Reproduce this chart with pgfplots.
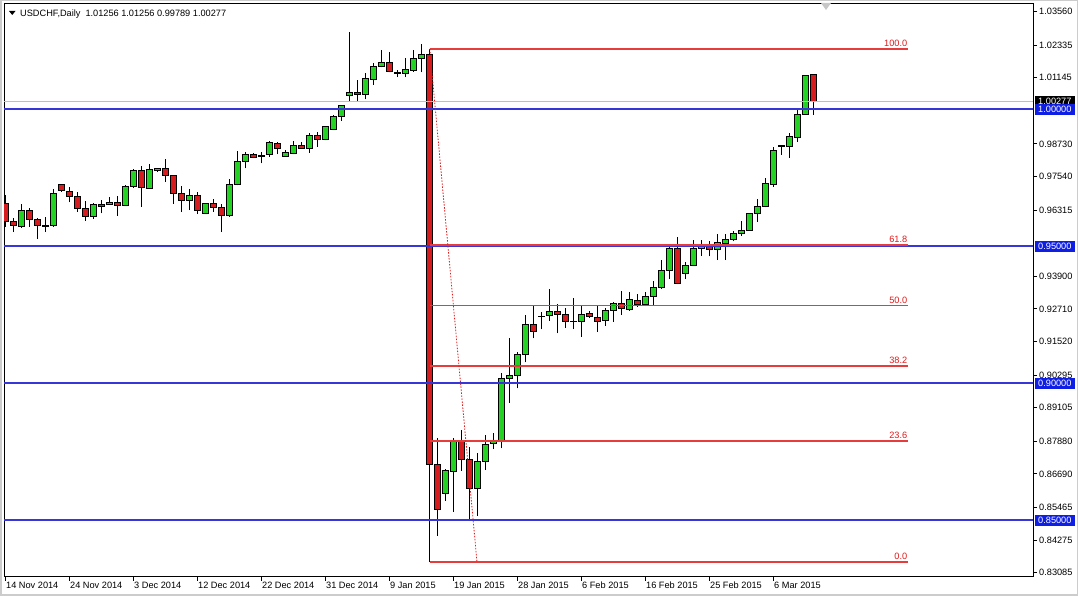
\documentclass[border=0pt]{standalone}
\usepackage{pgfplots}
\usepackage{pgfplotstable}
\pgfplotsset{compat=1.18}
\usepackage{fontspec}
\setmainfont{Liberation Sans}

\definecolor{bull}{RGB}{35,210,35}
\definecolor{bear}{RGB}{215,28,32}
\definecolor{lvlblue}{RGB}{55,55,215}
\definecolor{boxblue}{RGB}{15,30,228}
\definecolor{fibred}{RGB}{230,60,60}
\definecolor{fibtext}{RGB}{225,25,25}
\definecolor{bidgray}{RGB}{192,192,186}

% USDCHF daily, bar index (Sunday bars counted), open high low close
\pgfplotstableread{
i   o       h       l       c
0   0.9656  0.9686  0.9571  0.9590
1   0.9590  0.9602  0.9551  0.9574
2   0.9571  0.9654  0.9568  0.9630
3   0.9630  0.9638  0.9571  0.9596
4   0.9596  0.9602  0.9526  0.9574
5   0.9573  0.9605  0.9551  0.9576
6   0.9575  0.9708  0.9571  0.9692
7   0.9725  0.9725  0.9699  0.9702
8   0.9699  0.9717  0.9660  0.9680
9   0.9680  0.9696  0.9626  0.9638
10  0.9638  0.9665  0.9593  0.9610
11  0.9610  0.9659  0.9599  0.9653
12  0.9653  0.9668  0.9620  0.9644
13  0.9653  0.9680  0.9653  0.9661
14  0.9661  0.9683  0.9611  0.9649
15  0.9650  0.9725  0.9650  0.9717
16  0.9717  0.9780  0.9714  0.9777
17  0.9777  0.9793  0.9644  0.9714
18  0.9711  0.9799  0.9708  0.9780
19  0.9775  0.9786  0.9771  0.9783
20  0.9783  0.9817  0.9735  0.9759
21  0.9759  0.9761  0.9654  0.9692
22  0.9692  0.9719  0.9624  0.9666
23  0.9668  0.9707  0.9632  0.9686
24  0.9686  0.9699  0.9617  0.9630
25  0.9620  0.9654  0.9620  0.9654
26  0.9654  0.9671  0.9626  0.9642
27  0.9642  0.9654  0.9551  0.9611
28  0.9611  0.9744  0.9608  0.9725
29  0.9725  0.9847  0.9722  0.9808
30  0.9808  0.9845  0.9784  0.9836
31  0.9834  0.9841  0.9821  0.9824
32  0.9828  0.9845  0.9802  0.9830
33  0.9833  0.9885  0.9827  0.9878
34  0.9875  0.9881  0.9836  0.9857
35  0.9829  0.9851  0.9827  0.9841
36  0.9839  0.9884  0.9836  0.9869
37  0.9867  0.9881  0.9857  0.9857
38  0.9857  0.9914  0.9841  0.9905
39  0.9905  0.9918  0.9863  0.9890
40  0.9890  0.9938  0.9887  0.9936
41  0.9927  0.9979  0.9925  0.9975
42  0.9975  1.0015  0.9958  1.0012
43  1.0049  1.0280  1.0031  1.0061
44  1.0061  1.0106  1.0031  1.0054
45  1.0054  1.0131  1.0036  1.0113
46  1.0110  1.0168  1.0089  1.0156
47  1.0156  1.0216  1.0153  1.0171
48  1.0171  1.0210  1.0134  1.0137
49  1.0134  1.0143  1.0117  1.0131
50  1.0131  1.0186  1.0117  1.0143
51  1.0141  1.0216  1.0137  1.0186
52  1.0185  1.0238  1.0134  1.0198
53  1.0198  1.0220  0.8347  0.8704
54  0.8704  0.8799  0.8443  0.8540
55  0.8598  0.8687  0.8571  0.8680
56  0.8677  0.8799  0.8531  0.8790
57  0.8787  0.8829  0.8681  0.8722
58  0.8722  0.8768  0.8497  0.8616
59  0.8616  0.8744  0.8516  0.8715
60  0.8715  0.8811  0.8683  0.8777
61  0.8781  0.8817  0.8759  0.8787
62  0.8789  0.9038  0.8762  0.9018
63  0.9018  0.9164  0.8929  0.9027
64  0.9027  0.9113  0.8981  0.9105
65  0.9105  0.9249  0.9076  0.9215
66  0.9215  0.9285  0.9164  0.9188
67  0.9243  0.9261  0.9196  0.9245
68  0.9246  0.9342  0.9228  0.9260
69  0.9260  0.9289  0.9182  0.9251
70  0.9251  0.9273  0.9202  0.9224
71  0.9224  0.9310  0.9197  0.9226
72  0.9224  0.9285  0.9170  0.9249
73  0.9255  0.9265  0.9239  0.9243
74  0.9241  0.9285  0.9188  0.9224
75  0.9228  0.9273  0.9209  0.9267
76  0.9265  0.9297  0.9224  0.9291
77  0.9291  0.9337  0.9249  0.9273
78  0.9270  0.9334  0.9265  0.9306
79  0.9300  0.9325  0.9279  0.9288
80  0.9288  0.9334  0.9281  0.9318
81  0.9318  0.9373  0.9285  0.9350
82  0.9350  0.9450  0.9345  0.9411
83  0.9411  0.9501  0.9380  0.9492
84  0.9492  0.9535  0.9362  0.9364
85  0.9401  0.9441  0.9380  0.9428
86  0.9431  0.9523  0.9429  0.9492
87  0.9492  0.9523  0.9465  0.9501
88  0.9501  0.9518  0.9463  0.9489
89  0.9489  0.9544  0.9449  0.9513
90  0.9511  0.9544  0.9449  0.9523
91  0.9526  0.9557  0.9518  0.9548
92  0.9548  0.9593  0.9537  0.9557
93  0.9559  0.9622  0.9557  0.9620
94  0.9620  0.9671  0.9589  0.9644
95  0.9644  0.9748  0.9642  0.9730
96  0.9726  0.9863  0.9717  0.9851
97  0.9863  0.9869  0.9833  0.9867
98  0.9863  0.9912  0.9823  0.9900
99  0.9897  1.0001  0.9881  0.9981
100 0.9981  1.0125  0.9979  1.0122
101 1.01256 1.01256 0.99789 1.00277
}\candles

\begin{document}
\fontsize{9.2}{11}\selectfont
\begin{tikzpicture}
\path[use as bounding box] (0,0) rectangle (1078pt,596pt);
\draw[black!20, line width=1.5pt] (0.75pt,0.75pt) rectangle (1077.25pt,595.25pt);
\begin{axis}[
    at={(4pt,19pt)}, anchor=south west,
    scale only axis, width=1029pt, height=573pt,
    xmin=-0.125, xmax=128.5,
    ymin=0.82927, ymax=1.03839,
    clip mode=individual,
    axis line style={line width=1pt},
    tick style={black, line width=1pt},
    tick align=outside, major tick length=4pt,
    xtick pos=bottom, ytick pos=right, yticklabel pos=right,
    xtick={0,8,...,96},
    xticklabels={14 Nov 2014, 24 Nov 2014, 3 Dec 2014, 12 Dec 2014, 22 Dec 2014,
        31 Dec 2014, 9 Jan 2015, 19 Jan 2015, 28 Jan 2015, 6 Feb 2015,
        16 Feb 2015, 25 Feb 2015, 6 Mar 2015},
    ytick={0.83085,0.84275,0.85465,0.86690,0.87880,0.89105,0.90295,0.91520,
        0.92710,0.93900,0.96315,0.97540,0.98730,1.01145,1.02335,1.03560},
    yticklabels={0.83085,0.84275,0.85465,0.86690,0.87880,0.89105,0.90295,0.91520,
        0.92710,0.93900,0.96315,0.97540,0.98730,1.01145,1.02335,1.03560},
    xticklabel style={anchor=north west, inner sep=0pt, xshift=1pt, yshift=-1pt},
    yticklabel style={anchor=west, inner sep=0pt, xshift=2pt},
  ]
  % candles: wick, then body
  \pgfplotstablegetrowsof{\candles}
  \pgfmathtruncatemacro\lastrow{\pgfplotsretval-1}
  \pgfplotsforeachungrouped \r in {0,...,\lastrow}{
    \pgfplotstablegetelem{\r}{i}\of\candles \let\ci\pgfplotsretval
    \pgfplotstablegetelem{\r}{o}\of\candles \let\co\pgfplotsretval
    \pgfplotstablegetelem{\r}{h}\of\candles \let\ch\pgfplotsretval
    \pgfplotstablegetelem{\r}{l}\of\candles \let\cl\pgfplotsretval
    \pgfplotstablegetelem{\r}{c}\of\candles \let\cc\pgfplotsretval
    \pgfmathsetmacro\xl{\ci-0.375}
    \pgfmathsetmacro\xr{\ci+0.375}
    \pgfmathtruncatemacro\isbear{\cc<\co}
    \ifnum\isbear=1 \def\ccol{bear}\else\def\ccol{bull}\fi
    \edef\temp{%
      \noexpand\addplot[black, line width=1pt] coordinates {(\ci,\cl) (\ci,\ch)};
      \noexpand\addplot[draw=black, line width=1pt, fill=\ccol]
        coordinates {(\xl,\co) (\xr,\co) (\xr,\cc) (\xl,\cc)} -- cycle;
    }\temp
  }
  % bid line and round-number levels
  \addplot[bidgray, line width=1pt] coordinates {(-0.125,1.00277) (128.5,1.00277)};
  \addplot[lvlblue, line width=1.5pt] coordinates {(-0.125,1.0) (128.5,1.0)};
  \addplot[lvlblue, line width=1.5pt] coordinates {(-0.125,0.95) (128.5,0.95)};
  \addplot[lvlblue, line width=1.5pt] coordinates {(-0.125,0.90) (128.5,0.90)};
  \addplot[lvlblue, line width=1.5pt] coordinates {(-0.125,0.85) (128.5,0.85)};
  % fibonacci retracement
  \addplot[fibred, line width=1.5pt] coordinates {(53.1,1.0220) (112.9,1.0220)};
  \addplot[fibred, line width=1.5pt] coordinates {(53.1,0.9505) (112.9,0.9505)};
  \addplot[fibred, line width=1.5pt] coordinates {(53.1,0.92835) (112.9,0.92835)};
  \addplot[fibred, line width=1.5pt] coordinates {(53.1,0.9062) (112.9,0.9062)};
  \addplot[fibred, line width=1.5pt] coordinates {(53.1,0.8789) (112.9,0.8789)};
  \addplot[fibred, line width=1.5pt] coordinates {(53.1,0.8347) (112.9,0.8347)};
  \addplot[fibtext, line width=0.8pt, dash pattern=on 1.5pt off 1.5pt]
    coordinates {(53.1,1.0220) (59,0.8347)};
  \begin{scope}[every node/.style={text=fibtext, anchor=south east, inner sep=0pt, yshift=2pt}]
    \node at (axis cs:112.8,1.0220) {100.0};
    \node at (axis cs:112.8,0.9505) {61.8};
    \node at (axis cs:112.8,0.92835) {50.0};
    \node at (axis cs:112.8,0.9062) {38.2};
    \node at (axis cs:112.8,0.8789) {23.6};
    \node at (axis cs:112.8,0.8347) {0.0};
  \end{scope}
  \coordinate (bid) at (axis cs:128.5,1.00277);
  \coordinate (b100) at (axis cs:128.5,1.0);
  \coordinate (b95) at (axis cs:128.5,0.95);
  \coordinate (b90) at (axis cs:128.5,0.90);
  \coordinate (b85) at (axis cs:128.5,0.85);
\end{axis}
\begin{scope}[every node/.style={anchor=west, text=white, inner xsep=3.5pt,
    inner ysep=0pt, minimum height=11pt, xshift=1.5pt}]
  \node[fill=black] at (bid) {1.00277};
  \node[fill=boxblue] at (b100) {1.00000};
  \node[fill=boxblue] at (b95) {0.95000};
  \node[fill=boxblue] at (b90) {0.90000};
  \node[fill=boxblue] at (b85) {0.85000};
\end{scope}
% chart header
\fill[black] (9pt,585pt) -- (15.5pt,585pt) -- (12.25pt,581pt) -- cycle;
\node[anchor=base west, inner sep=0pt] at (20pt,579.7pt)
  {USDCHF,Daily\hspace{5pt}1.01256 1.01256 0.99789 1.00277};
% chart shift marker
\fill[black!22] (821pt,593pt) -- (831pt,593pt) -- (826pt,586pt) -- cycle;
\end{tikzpicture}
\end{document}
